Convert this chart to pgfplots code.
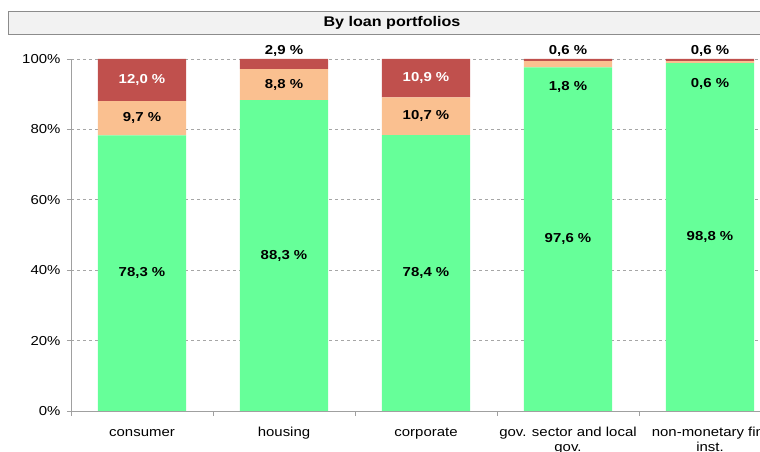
\documentclass[border=0pt]{standalone}
\usepackage{fontspec}
\setmainfont{Liberation Sans}[FakeStretch=1.15]
\usepackage{pgfplots}
\pgfplotsset{compat=1.18}
\definecolor{cgreen}{HTML}{66FF99}
\definecolor{corange}{HTML}{FAC090}
\definecolor{cred}{HTML}{C0504D}
\definecolor{axgray}{HTML}{A0A0A0}
\definecolor{gridgray}{HTML}{A6A6A6}
\definecolor{boxfill}{HTML}{F2F2F2}
\definecolor{boxdraw}{HTML}{8C8C8C}
\begin{document}
\fontsize{13}{16}\selectfont
\begin{tikzpicture}
\path[use as bounding box] (0,0) rectangle (760pt,452pt);
\draw[boxdraw, fill=boxfill, line width=0.8pt] (8pt,418pt) rectangle (778pt,441pt);
\node[font=\fontsize{14}{16}\selectfont\bfseries] at (392pt,429.5pt) {By loan portfolios};
\begin{axis}[
  at={(71pt,41pt)}, anchor=south west, scale only axis,
  width=710pt, height=352pt,
  xmin=-0.5, xmax=4.5, ymin=0, ymax=100,
  ybar stacked, bar width=0.62,
  clip=false,
  axis lines=left,
  axis line style={draw=axgray, line width=0.8pt, -},
  ytick={0,20,40,60,80,100},
  yticklabels={0\%,20\%,40\%,60\%,80\%,100\%},
  ymajorgrids,
  grid style={dashed, gridgray, line width=0.6pt},
  xtick={0,1,2,3,4},
  xticklabels={\strut consumer,\strut housing,\strut corporate,{\strut gov. sector and local\\gov.},{\strut non-monetary fin.\\inst.}},
  minor xtick={-0.5,0.5,1.5,2.5,3.5,4.5},
  tick align=outside,
  major tick length=4pt,
  minor tick length=5pt,
  major x tick style={draw=none},
  tick style={axgray, line width=0.8pt},
  x tick label style={align=center, font=\fontsize{13}{15.5}\selectfont, yshift=-6pt, anchor=north},
  y tick label style={font=\fontsize{13}{16}\selectfont, xshift=-2pt},
]
\addplot[fill=cgreen, draw=none] coordinates {(0,78.3) (1,88.3) (2,78.4) (3,97.6) (4,98.8)};
\addplot[fill=corange, draw=none] coordinates {(0,9.7) (1,8.8) (2,10.7) (3,1.8) (4,0.6)};
\addplot[fill=cred, draw=none] coordinates {(0,12.0) (1,2.9) (2,10.9) (3,0.6) (4,0.6)};
% green label anchors
\coordinate (g0) at (axis cs:0,39.15);
\coordinate (g1) at (axis cs:1,44.15);
\coordinate (g2) at (axis cs:2,39.2);
\coordinate (g3) at (axis cs:3,48.8);
\coordinate (g4) at (axis cs:4,49.4);
% orange label anchors
\coordinate (o0) at (axis cs:0,83.15);
\coordinate (o1) at (axis cs:1,92.7);
\coordinate (o2) at (axis cs:2,83.75);
\coordinate (o3) at (axis cs:3,92.0);
\coordinate (o4) at (axis cs:4,92.8);
% red label anchors
\coordinate (r0) at (axis cs:0,94.0);
\coordinate (r1) at (axis cs:1,102.4);
\coordinate (r2) at (axis cs:2,94.55);
\coordinate (r3) at (axis cs:3,102.4);
\coordinate (r4) at (axis cs:4,102.4);
\end{axis}
\begin{scope}[every node/.style={font=\fontsize{13}{16}\selectfont\bfseries}]
\node at (g0) {78,3 \%};
\node at (g1) {88,3 \%};
\node at (g2) {78,4 \%};
\node at (g3) {97,6 \%};
\node at (g4) {98,8 \%};
\node at (o0) {9,7 \%};
\node at (o1) {8,8 \%};
\node at (o2) {10,7 \%};
\node at (o3) {1,8 \%};
\node at (o4) {0,6 \%};
\node[text=white] at (r0) {12,0 \%};
\node at (r1) {2,9 \%};
\node[text=white] at (r2) {10,9 \%};
\node at (r3) {0,6 \%};
\node at (r4) {0,6 \%};
\end{scope}
\end{tikzpicture}
\end{document}
